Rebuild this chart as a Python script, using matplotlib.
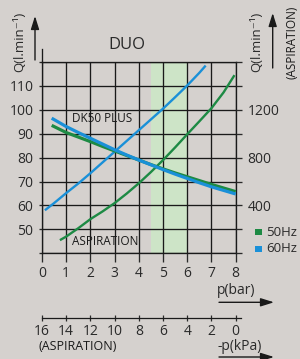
import matplotlib
matplotlib.use("Agg")
import matplotlib.pyplot as plt

plt.rcParams["font.family"] = ["Open Sans", "DejaVu Sans"]

# --- data ---
bar_ticks = [0, 1, 2, 3, 4, 5, 6, 7, 8]
kpa_labels = ["16", "14", "12", "10", "8", "6", "4", "2", "0"]
q_ticks = [40, 50, 60, 70, 80, 90, 100, 110, 120]
q_labels = ["", "50", "60", "70", "80", "90", "100", "110", ""]
asp_ticks = [0, 200, 400, 600, 800, 1000, 1200, 1400, 1600]
asp_labels = ["", "", "400", "", "800", "", "1200", "", ""]

# DK50 PLUS output (pressure side)
dk_50_p = [0.4, 1, 1.5, 2, 2.5, 3, 3.5, 4, 4.5, 5, 5.5, 6, 6.5, 7, 7.5, 8]
dk_50_q = [93.5, 90.5, 88.6, 86.7, 84.7, 82.8, 80.9, 79.0, 77.1, 75.3, 73.6,
           72.0, 70.4, 68.8, 67.3, 65.8]
dk_60_p = [0.4, 1, 1.5, 2, 2.5, 3, 3.5, 4, 4.5, 5, 5.5, 6, 6.5, 7, 7.5, 8]
dk_60_q = [96.5, 93.0, 90.5, 88.1, 85.7, 83.3, 81.1, 79.0, 77.0, 75.0, 73.1,
           71.3, 69.5, 67.8, 66.3, 64.8]

# aspiration curves
asp_50_p = [0.74, 1, 1.5, 2, 2.5, 3, 3.5, 4, 4.5, 5, 5.5, 6, 6.5, 7, 7.5, 7.95]
asp_50_q = [45.5, 47.0, 50.5, 54.3, 57.5, 61.0, 65.0, 69.3, 74.0, 79.0, 84.3,
            89.8, 95.2, 100.7, 107.3, 114.5]
asp_60_p = [0.12, 0.5, 1, 1.5, 2, 2.5, 3, 3.5, 4, 4.5, 5, 5.5, 6, 6.5, 6.76]
asp_60_q = [58.0, 61.0, 65.2, 69.2, 73.5, 78.0, 82.5, 87.0, 91.5, 96.0, 100.5,
            105.3, 110.2, 115.5, 118.5]

band = (4.5, 6)

GREEN = "#1d8a44"
BLUE = "#1a90d8"
BG = "#d5d1ce"
INK = "#2a2a2a"
W, H = 300, 359


def fx(x):
    return x / W


def fy(y):
    return 1 - y / H


fig = plt.figure(figsize=(W / 100, H / 100), dpi=100, facecolor=BG)

left, right, top, bottom = 42, 235.7, 62, 253.3
ax = fig.add_axes([fx(left), fy(bottom), fx(right - left), (bottom - top) / H])
ax.set_facecolor(BG)
ax.set_xlim(0, 8)
ax.set_ylim(40, 120)

ax.axvspan(*band, color="#cde4c7", zorder=0, lw=0)

ax.set_xticks(bar_ticks)
ax.set_xticklabels([str(t) for t in bar_ticks])
ax.set_yticks(q_ticks)
ax.set_yticklabels(q_labels)
ax.grid(True, color="#1a1a1a", lw=0.95, zorder=1)
for s in ax.spines.values():
    s.set_color("#1a1a1a")
    s.set_linewidth(0.95)
ax.tick_params(axis="x", length=6.5, width=0.95, pad=3, labelsize=10,
               colors=INK)
ax.tick_params(axis="y", length=2.2, width=0.95, pad=4, labelsize=10,
               colors=INK)

ax.plot(asp_50_p, asp_50_q, color=GREEN, lw=1.7, zorder=3, solid_capstyle="butt")
ax.plot(asp_60_p, asp_60_q, color=BLUE, lw=1.7, zorder=3, solid_capstyle="butt")
ax.plot(dk_50_p, dk_50_q, color=GREEN, lw=2.3, zorder=4, solid_capstyle="butt")
ax.plot(dk_60_p, dk_60_q, color=BLUE, lw=2.3, zorder=5, solid_capstyle="butt")

ax.text(2.5, 96.5, "DK50 PLUS", ha="center", va="center", fontsize=8.5,
        color="#1a1a1a", zorder=6)
ax.text(2.62, 45, "ASPIRATION", ha="center", va="center", fontsize=8.5,
        color="#1a1a1a", zorder=6)

ax2 = ax.twinx()
ax2.set_ylim(0, 1600)
ax2.set_yticks(asp_ticks)
ax2.set_yticklabels(asp_labels)
ax2.tick_params(axis="y", length=4.5, width=0.95, pad=4, labelsize=10,
                colors=INK)
for s in ax2.spines.values():
    s.set_visible(False)

# left spine goes up past the frame
fig.add_artist(plt.Line2D([fx(42), fx(42)], [fy(62), fy(49)], color="#1a1a1a",
                          lw=0.95))

# secondary kPa scale
ax3 = fig.add_axes([fx(42), fy(317.7), fx(241 - 42), 0.0001])
ax3.set_facecolor("none")
ax3.set_xlim(0, (241 - 42) / ((right - left) / 8))
ax3.set_xticks(bar_ticks)
ax3.set_xticklabels(kpa_labels)
ax3.set_yticks([])
for k in ("top", "left", "right"):
    ax3.spines[k].set_visible(False)
ax3.spines["bottom"].set_color("#1a1a1a")
ax3.spines["bottom"].set_linewidth(0.9)
ax3.tick_params(axis="x", direction="inout", length=5, width=0.9, pad=2,
                labelsize=10, colors=INK)

fig.text(fx(127), fy(45), "DUO", ha="center", va="center", fontsize=12,
         color=INK)
fig.text(fx(20), fy(42), "Q(l.min⁻¹)", rotation=90, ha="center", va="center",
         fontsize=9.5, color=INK)
fig.text(fx(256.7), fy(42), "Q(l.min⁻¹)", rotation=90, ha="center",
         va="center", fontsize=9.5, color=INK)
fig.text(fx(291.5), fy(42), "(ASPIRATION)", rotation=90, ha="center",
         va="center", fontsize=8.5, color="#1a1a1a")
fig.text(fx(236.5), fy(291), "p(bar)", ha="center", va="center", fontsize=10,
         color=INK)
fig.text(fx(240), fy(346.5), "-p(kPa)", ha="center", va="center", fontsize=10,
         color=INK)
fig.text(fx(77.5), fy(346.5), "(ASPIRATION)", ha="center", va="center",
         fontsize=9, color="#1a1a1a")

arrow = dict(arrowstyle="-|>,head_length=0.8,head_width=0.25", lw=1.0,
             color="#1a1a1a", mutation_scale=10, shrinkA=0, shrinkB=0)
for (x0, y0), (x1, y1) in [((35, 60), (35, 16)), ((272.7, 68), (272.7, 13)),
                           ((219, 302.3), (274, 302.3)),
                           ((219, 357), (274, 357))]:
    fig.add_artist(matplotlib.patches.FancyArrowPatch(
        (fx(x0), fy(y0)), (fx(x1), fy(y1)), transform=fig.transFigure,
        **arrow))

# legend
for yy, col, lab in [(232, GREEN, "50Hz"), (249, BLUE, "60Hz")]:
    fig.add_artist(matplotlib.patches.Rectangle(
        (fx(255), fy(yy + 3.2)), fx(6.5), 6.5 / H, transform=fig.transFigure,
        color=col, lw=0))
    fig.text(fx(266), fy(yy), lab, ha="left", va="center", fontsize=9.5,
             color=INK)

fig.savefig("out.png", dpi=100, facecolor=BG)
